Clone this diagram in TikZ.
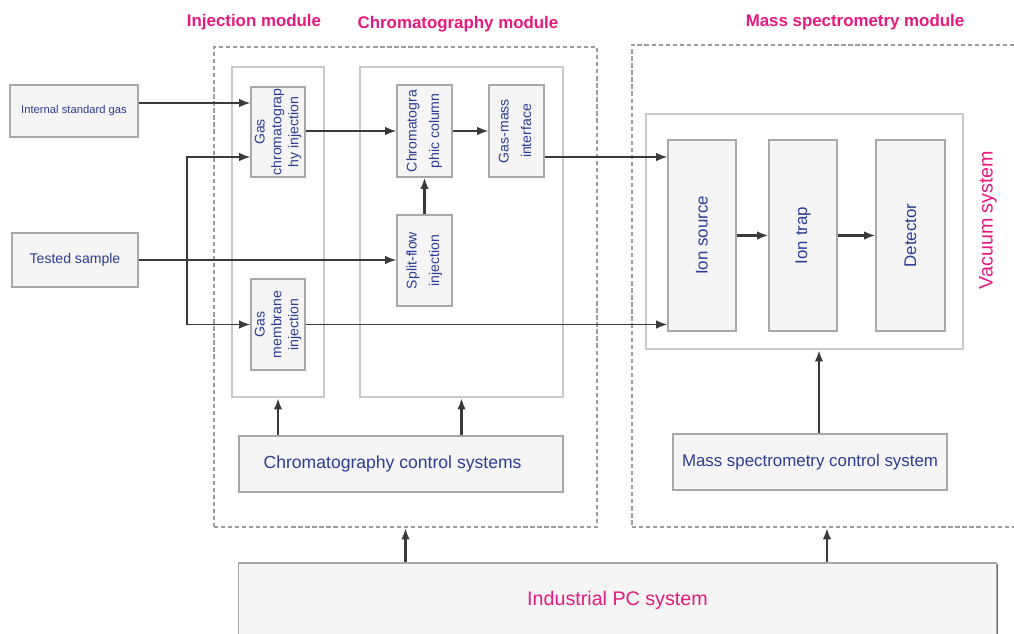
\documentclass[tikz,border=0pt]{standalone}
\usepackage{graphicx}
\usepackage{fontspec}
\setmainfont{Liberation Sans}
\usetikzlibrary{arrows.meta,shadows}

\definecolor{txtblue}{HTML}{2E3D93}
\definecolor{modpink}{HTML}{E5197E}
\definecolor{boxfill}{HTML}{F5F5F5}
\definecolor{boxgray}{HTML}{A8A8A8}
\definecolor{shadowgray}{HTML}{6E6E6E}
\definecolor{framegray}{HTML}{CACACA}
\definecolor{dashgray}{HTML}{9C9C9C}
\definecolor{arrgray}{HTML}{3A3A3A}

\newcommand{\vlab}[1]{\rotatebox{90}{\begin{tabular}{@{}c@{}}#1\end{tabular}}}

\begin{document}
\begin{tikzpicture}[x=0.025cm,y=-0.025cm,
        box/.style={draw=boxgray, fill=boxfill, line width=0.8pt, inner sep=0.5pt,
                        drop shadow={shadow xshift=1pt, shadow yshift=-1pt,
                                     fill=shadowgray, opacity=1},
                        text=txtblue, font=\fontsize{10}{12}\selectfont},
        bigbox/.style={box, font=\fontsize{12}{14}\selectfont},
        frame/.style={draw=framegray, line width=1.6pt, fill=white},
        dframe/.style={draw=dashgray, line width=1.4pt, dash pattern=on 3pt off 2pt},
        arr/.style={-{Latex[length=8pt,width=6pt]}, draw=arrgray, line width=1.2pt},
        title/.style={text=modpink, font=\bfseries\fontsize{12}{14}\selectfont}]
    \useasboundingbox (0,0) rectangle (1014,633);
    \clip (0,0) rectangle (1014,633);

    % modules
    \node[dframe, minimum width=9.575cm, minimum height=12cm] (ldash) at (405.5,287) {};
    \node[dframe, minimum width=10cm, minimum height=12.05cm] (rdash) at (832,286) {};
    \node[frame, minimum width=2.3cm, minimum height=8.25cm] (injbox) at (278,232) {};
    \node[frame, minimum width=5.075cm, minimum height=8.25cm] (chrbox) at (461.5,232) {};
    \node[frame, minimum width=7.925cm, minimum height=5.875cm] (vacbox) at (804.5,231.5) {};

    \node[title] (tinj) at (254,22) {Injection module};
    \node[title] (tchr) at (458,24) {Chromatography module};
    \node[title] (tms) at (855,22) {Mass spectrometry module};
    \node[text=modpink, font=\fontsize{14}{16}\selectfont, rotate=90] (tvac) at (988,220) {Vacuum system};

    % inputs
    \node[box, font=\fontsize{8}{10}\selectfont, minimum width=3.2cm, minimum height=1.3cm]
        (isg) at (74,111) {Internal standard gas};
    \node[box, minimum width=3.15cm, minimum height=1.35cm] (ts) at (75,260) {Tested sample};

    % injection and chromatography
    \node[box, minimum width=1.35cm, minimum height=2.25cm] (gci) at (278,132)
        {\vlab{Gas\\chromatograp\\hy injection}};
    \node[box, minimum width=1.35cm, minimum height=2.275cm] (gmi) at (278,324.5)
        {\vlab{Gas\\membrane\\injection}};
    \node[box, minimum width=1.375cm, minimum height=2.3cm] (col) at (424.5,131)
        {\vlab{Chromatogra\\[4pt]phic column}};
    \node[box, minimum width=1.375cm, minimum height=2.3cm] (gmif) at (516.5,131)
        {\vlab{Gas-mass\\[4pt]interface}};
    \node[box, minimum width=1.375cm, minimum height=2.275cm] (sfi) at (424.5,260.5)
        {\vlab{Split-flow\\[4pt]injection}};
    \node[bigbox, font=\fontsize{12.5}{14}\selectfont, minimum width=8.1cm, minimum height=1.4cm]
        (ccs) at (401,464) {\hspace{-12pt}Chromatography control systems\hspace{12pt}};

    % mass spectrometry
    \node[bigbox, minimum width=1.7cm, minimum height=4.775cm] (ions) at (702,235.5)
        {\rotatebox{90}{Ion source}};
    \node[bigbox, minimum width=1.7cm, minimum height=4.775cm] (trap) at (803,235.5)
        {\rotatebox{90}{Ion trap}};
    \node[bigbox, minimum width=1.725cm, minimum height=4.775cm] (det) at (910.5,235.5)
        {\rotatebox{90}{Detector}};
    \node[bigbox, minimum width=6.85cm, minimum height=1.4cm] (mscs) at (810,462)
        {Mass spectrometry control system};

    \node[box, text=modpink, font=\fontsize{14}{16}\selectfont,
          minimum width=18.925cm, minimum height=1.85cm] (ipc) at (617.5,600)
        {Industrial PC system};

    % connections
    \coordinate (split) at (187,260);
    \draw[arr] ([yshift=2mm]isg.east) -- ([yshift=2mm]isg.east -| gci.west);
    \draw[arr] (ts.east) -- (ts.east -| sfi.west);
    \draw[arr] (split) |- ([yshift=-6.25mm]gci.west);
    \draw[arr] (split) |- (gmi.west);
    \draw[arr] (gci.east |- col.west) -- (col.west);
    \draw[arr] (col.east) -- (gmif.west);
    \draw[arr, line width=1.8pt] (sfi.north) -- (col.south);
    \draw[arr] ([yshift=-6.5mm]gmif.east) -- ([yshift=-6.5mm]gmif.east -| ions.west);
    \draw[arr] (gmi.east) -- (gmi.east -| ions.west);
    \draw[arr, line width=2.2pt] (ions.east) -- (trap.west);
    \draw[arr, line width=2.2pt] (trap.east) -- (det.west);
    \draw[arr, line width=1.5pt] (ccs.north -| injbox.south) -- (injbox.south);
    \draw[arr, line width=1.5pt] (ccs.north -| chrbox.south) -- (chrbox.south);
    \draw[arr, line width=1.5pt] ([xshift=2.25mm]mscs.north) -- ([xshift=2.25mm]mscs.north |- vacbox.south);
    \draw[arr, line width=1.5pt] (ipc.north -| ldash.south) -- (ldash.south);
    \draw[arr, line width=1.5pt] (ipc.north -| 827,0) -- (rdash.south -| 827,0);
\end{tikzpicture}
\end{document}
